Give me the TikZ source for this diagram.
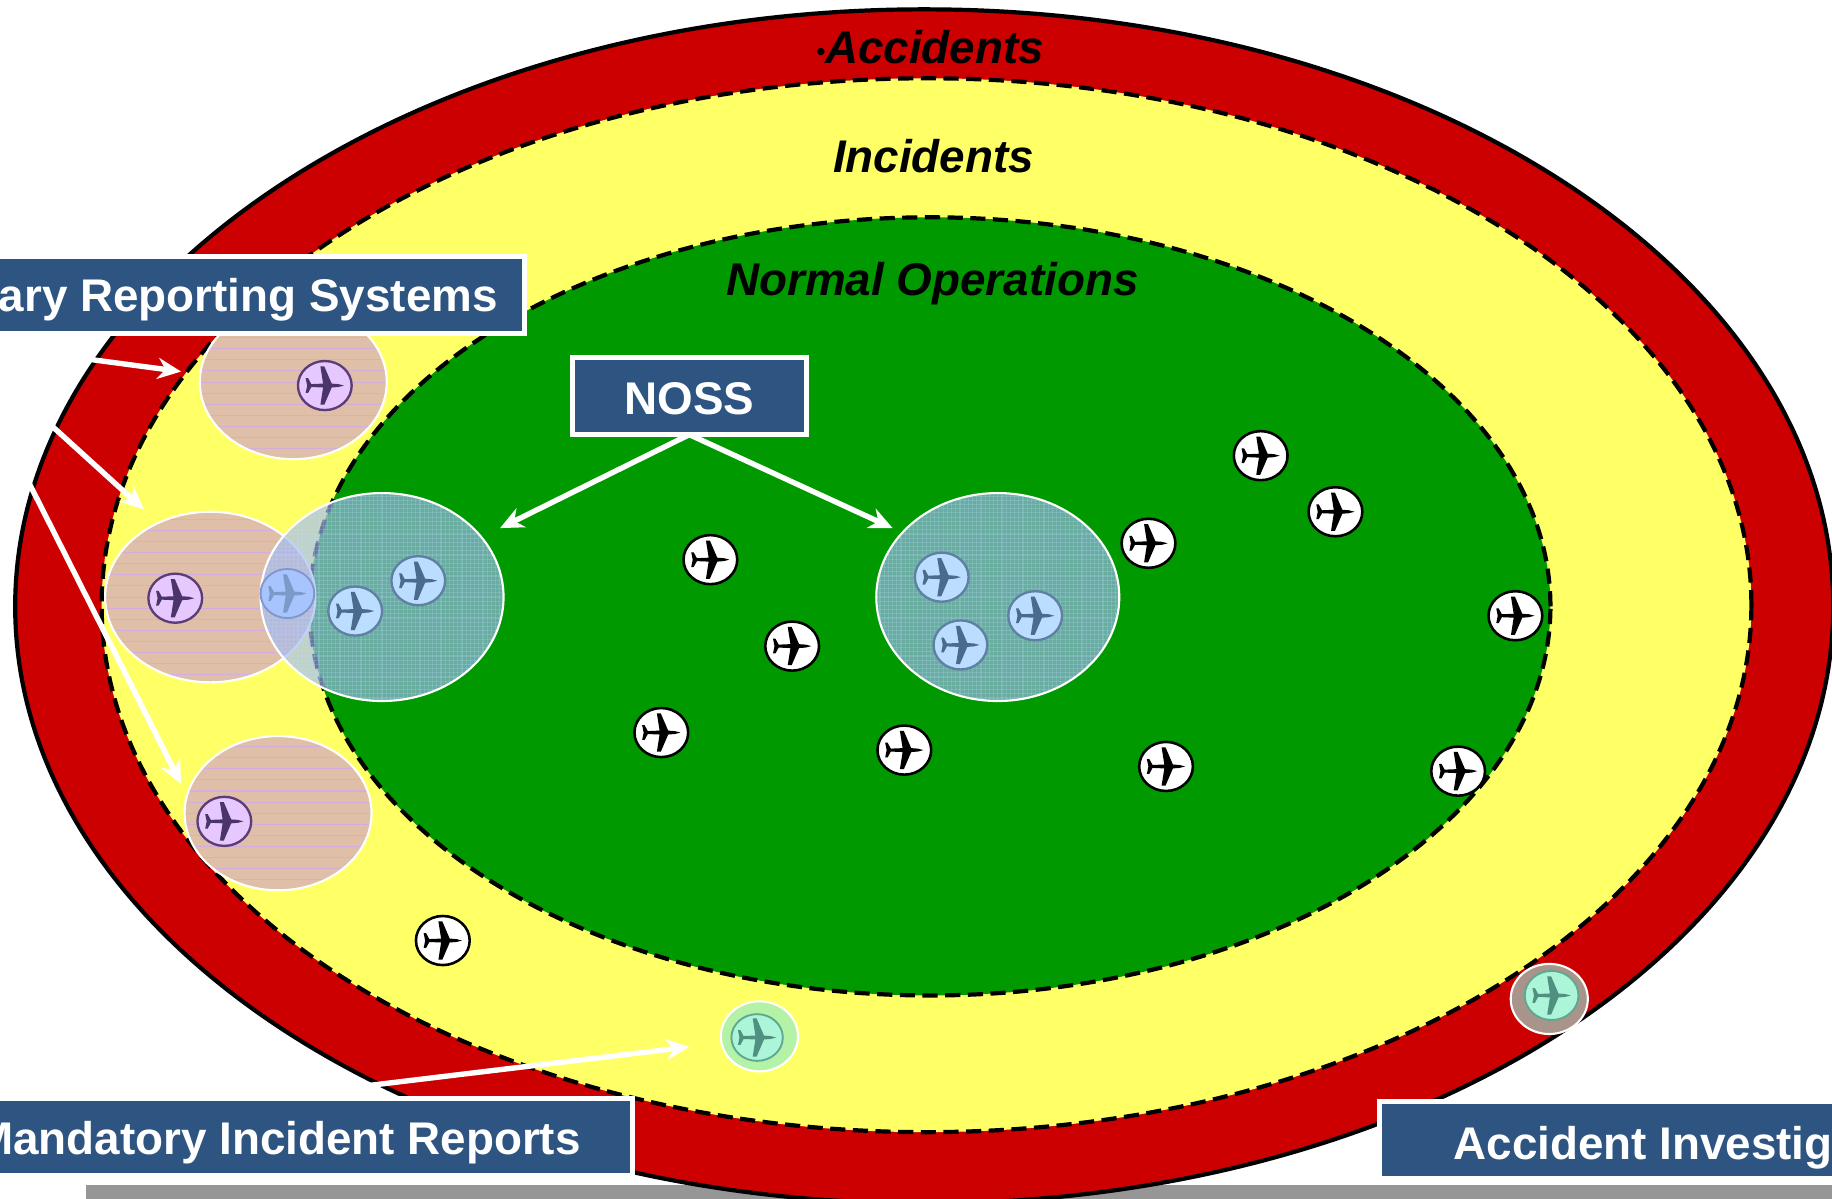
\documentclass[tikz,border=0pt]{standalone}
\usepackage{fontspec}
\setmainfont{Liberation Sans}
\usetikzlibrary{shapes.geometric,arrows.meta}
\definecolor{cRed}{HTML}{CC0000}
\definecolor{cYel}{HTML}{FFFF66}
\definecolor{cGrn}{HTML}{009900}
\definecolor{cBox}{HTML}{2E5581}
\definecolor{cBar}{HTML}{969696}
\definecolor{cPink}{HTML}{E0BFA8}
\definecolor{cLilac}{HTML}{D0A8F0}
\definecolor{cBlob}{HTML}{A0B9F6}
\definecolor{cMesh}{HTML}{BBDDFF}
\definecolor{cMandatory}{HTML}{B4F2A8}
\definecolor{cInvest}{HTML}{A8948A}
\definecolor{E6}{HTML}{E6C8FF}\definecolor{P6}{HTML}{5A3C78}
\definecolor{B6}{HTML}{BBDDFF}\definecolor{B7}{HTML}{5F7FA3}
\definecolor{G6}{HTML}{A8C4FF}\definecolor{G7}{HTML}{8296CC}
\definecolor{M6}{HTML}{ACF5D8}\definecolor{M7}{HTML}{5FA890}
\definecolor{JB}{HTML}{4A6A8E}\definecolor{JP}{HTML}{4B3568}
\definecolor{JG}{HTML}{7A9AC8}\definecolor{JM}{HTML}{4F9080}
\tikzset{
  zone/.style={ellipse,inner sep=0pt,outer sep=0pt,line width=1.8pt,draw=black},
  dashzone/.style={zone,dash pattern=on 6.5pt off 3.2pt},
  blob/.style={ellipse,inner sep=0pt,outer sep=0pt,minimum width=#1},
  whiteedge/.style={draw=white,line width=0.9pt},
  disc/.style={ellipse,inner sep=0pt,outer sep=0pt,minimum width=23pt,minimum height=21pt},
  blackdisc/.style={disc,fill=white,draw=black,line width=1.1pt},
  pinkdisc/.style={disc,fill=E6,draw=P6,line width=1pt},
  bluedisc/.style={disc,fill=B6,draw=B7,line width=1pt},
  ghostdisc/.style={disc,fill=G6,draw=G7,line width=.8pt},
  mintdisc/.style={disc,fill=M6,draw=M7,line width=.8pt},
  boxlabel/.style={rectangle,fill=cBox,draw=white,line width=2.2pt,text=white,font=\fontsize{19.6pt}{22pt}\selectfont\bfseries,minimum height=33pt,inner ysep=0pt,outer sep=0pt,text depth=0pt},
  zonelabel/.style={font=\fontsize{19.6pt}{22pt}\selectfont\bfseries\itshape,text=black,inner sep=0pt},
  pointer/.style={draw=white,line width=2.3pt,-{Stealth[length=10pt,width=9pt]}},
  jet/.pic={\path[pic actions] (0.78,0)--(0.55,0.06)--(0.28,0.08)--(-0.02,0.78)--(-0.18,0.78)--(-0.07,0.08)--(-0.55,0.06)--(-0.68,0.3)--(-0.78,0.3)--(-0.72,0)--(-0.78,-0.3)--(-0.68,-0.3)--(-0.55,-0.06)--(-0.07,-0.08)--(-0.18,-0.78)--(-0.02,-0.78)--(0.28,-0.08)--(0.55,-0.06)--cycle;}
}
\newcommand{\jetat}[5]{\node[#4] (#1) at (#2,#3) {};\pic[scale=21,fill=#5] at (#1.center) {jet};}
\newcommand{\hatchlines}[4]{\begin{scope}\clip (#1,#2) ellipse [x radius=#3,y radius=#4];
  \foreach \k in {-8,...,8}{\draw[cLilac,line width=.45pt,opacity=.7] (#1-#3,#2+\k*9.5) -- (#1+#3,#2+\k*9.5);}
  \end{scope}}
\newcommand{\meshlines}[6]{\begin{scope}\clip (#1,#2) ellipse [x radius=#3,y radius=#4];
  \foreach \k in {-#6,...,#6}{\draw[#5,line width=.5pt,opacity=.22] (#1+\k*3.6,#2-#4) -- (#1+\k*3.6,#2+#4);
  \draw[#5,line width=.5pt,opacity=.22] (#1-#3,#2+\k*3.6) -- (#1+#3,#2+\k*3.6);}
  \end{scope}}
\begin{document}
\begin{tikzpicture}[x=0.5pt,y=-0.5pt]
\useasboundingbox (0,0) rectangle (1568,1026.2);
\clip (0,0) rectangle (1568,1026.2);
\fill[white] (0,0) rectangle (1568,1026.2);
\fill[cBar] (74,1014) rectangle (1568,1027);
% zones
\node[zone,fill=cRed,minimum width=778pt,minimum height=511pt] (outer) at (791,519) {};
\node[dashzone,fill=cYel,minimum width=706pt,minimum height=451pt] (mid) at (793,518) {};
\node[dashzone,fill=cGrn,minimum width=531pt,minimum height=333pt] (core) at (796,519) {};
% zone labels
\node[zonelabel] (laba) at (796,40) {{\fontsize{11pt}{12pt}\selectfont\raisebox{1pt}{•}}Accidents};
\node[zonelabel] (labi) at (799,134) {Incidents};
\node[zonelabel] (labn) at (798,243) {Normal Operations};
% voluntary reporting circles
\node[blob=80pt,minimum height=66pt,fill=cPink] (v1) at (251,327) {};
\hatchlines{251}{327}{80}{66}
\node[blob=80pt,minimum height=66pt,whiteedge] (v1e) at (251,327) {};
\node[blob=90pt,minimum height=73pt,fill=cPink] (v2) at (180,511) {};
\hatchlines{180}{511}{90}{73}
\node[blob=90pt,minimum height=73pt,whiteedge] (v2e) at (180,511) {};
\node[blob=80pt,minimum height=66pt,fill=cPink] (v3) at (238,696) {};
\hatchlines{238}{696}{80}{66}
\node[blob=80pt,minimum height=66pt,whiteedge] (v3e) at (238,696) {};
% NOSS circles
\node[blob=104pt,minimum height=89pt,fill=cBlob,fill opacity=.65] (n1) at (327,511) {};
\meshlines{327}{511}{104}{89}{cMesh}{29}
\node[blob=104pt,minimum height=89pt,whiteedge] (n1e) at (327,511) {};
\node[blob=104pt,minimum height=89pt,fill=cBlob,fill opacity=.65] (n2) at (854,511) {};
\meshlines{854}{511}{104}{89}{cMesh}{29}
\node[blob=104pt,minimum height=89pt,whiteedge] (n2e) at (854,511) {};
% mandatory and accident circles
\node[blob=33pt,minimum height=30pt,fill=cMandatory,whiteedge] (m1) at (650,887) {};
\node[blob=33pt,minimum height=30pt,fill=cInvest,whiteedge] (m2) at (1326,855) {};
% aircraft
\jetat{a1}{1079}{390}{blackdisc}{black}
\jetat{a2}{1143}{438}{blackdisc}{black}
\jetat{a3}{983}{465}{blackdisc}{black}
\jetat{a4}{608}{479}{blackdisc}{black}
\jetat{a5}{1297}{527}{blackdisc}{black}
\jetat{a6}{678}{553}{blackdisc}{black}
\jetat{a7}{566}{627}{blackdisc}{black}
\jetat{a8}{774}{642}{blackdisc}{black}
\jetat{a9}{998}{656}{blackdisc}{black}
\jetat{a10}{1248}{660}{blackdisc}{black}
\jetat{a11}{379}{805}{blackdisc}{black}
\jetat{p1}{278}{330}{pinkdisc}{JP}
\jetat{p2}{150}{512}{pinkdisc}{JP}
\jetat{p3}{192}{703}{pinkdisc}{JP}
\jetat{b1}{246}{508}{ghostdisc}{JG}
\jetat{b2}{304}{523}{bluedisc}{JB}
\jetat{b3}{358}{497}{bluedisc}{JB}
\jetat{b4}{806}{494}{bluedisc}{JB}
\jetat{b5}{886}{527}{bluedisc}{JB}
\jetat{b6}{822}{552}{bluedisc}{JB}
\jetat{g1}{648}{888}{mintdisc,minimum width=22pt,minimum height=20pt}{JM}
\jetat{g2}{1328}{852}{mintdisc}{JM}
% boxes
\node[boxlabel,anchor=east,inner xsep=11.5pt,text height=14pt] (vol) at (449,252.5) {ary Reporting Systems};
\node[boxlabel,anchor=east,inner xsep=22pt,text height=15pt] (man) at (541,973.5) {Mandatory Incident Reports};
\node[boxlabel,anchor=west,inner xsep=31.5pt,text height=16pt] (acc) at (1181,976) {Accident Investig};
\node[boxlabel,minimum width=100pt,minimum height=33pt,inner xsep=0pt,text height=16pt] (noss) at (590,339) {NOSS};
% connector ends
\coordinate (s1) at (-78,287);
\coordinate (s2) at (-41,287);
\coordinate (s3) at (-39,287);
\coordinate (s4) at (225,940);
\coordinate (t1) at (155,318);
\coordinate (t2) at (123,436);
\coordinate (t3) at (155,671);
\coordinate (t4) at (590,896);
\coordinate (t5) at (428,452);
\coordinate (t6) at (764,452);
\draw[pointer] (s1) -- (t1);
\draw[pointer] (s2) -- (t2);
\draw[pointer] (s3) -- (t3);
\draw[pointer] (s4) -- (t4);
\draw[pointer] (noss.south) -- (t5);
\draw[pointer] (noss.south) -- (t6);
\end{tikzpicture}
\end{document}
